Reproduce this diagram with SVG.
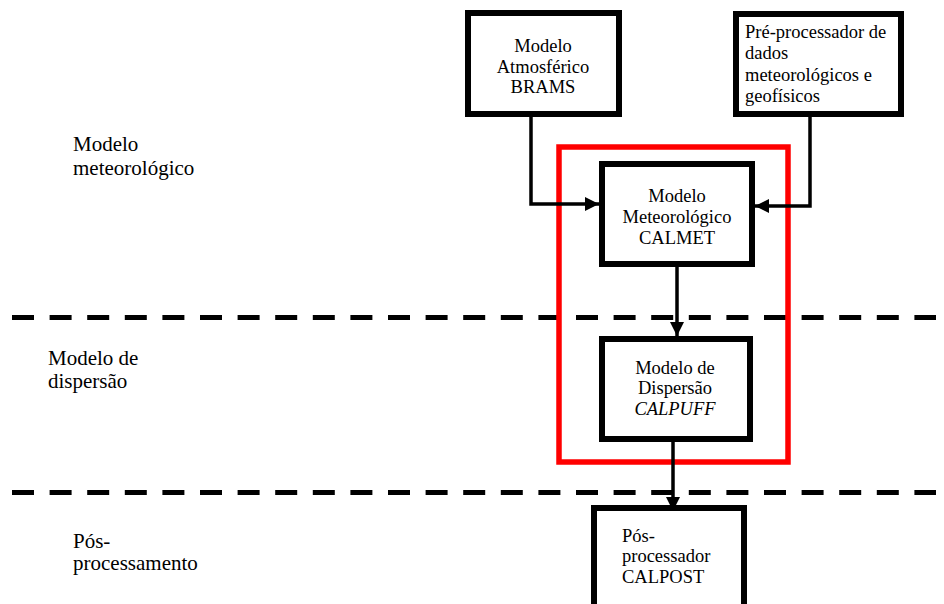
<svg xmlns="http://www.w3.org/2000/svg" width="944" height="604" viewBox="0 0 944 604">
<style>
.t{font-family:'Liberation Serif','DejaVu Serif',serif;font-size:18.5px;fill:#000}
.lab{font-family:'Liberation Serif','DejaVu Serif',serif;font-size:21px;fill:#000}
.box{fill:#fff;stroke:#000;stroke-width:6}
.c{text-anchor:middle}
.conn{fill:none;stroke:#000;stroke-width:3.5}
.dash{fill:none;stroke:#000;stroke-width:5;stroke-dasharray:22 15.6}
</style>
<defs>
<marker id="ah" viewBox="0 0 14 14" refX="14" refY="7" markerWidth="14" markerHeight="14" markerUnits="userSpaceOnUse" orient="auto">
<path d="M0,0 L14,7 L0,14 z" fill="#000"/>
</marker>
</defs>
<rect width="944" height="604" fill="#fff"/>
<g id="separators">
<line class="dash" x1="12" y1="317.5" x2="936" y2="317.5"/>
<line class="dash" x1="12" y1="492.5" x2="936" y2="492.5"/>
</g>
<g id="labels">
<text class="lab" x="73" y="151">Modelo</text>
<text class="lab" x="73" y="175">meteorológico</text>
<text class="lab" x="48" y="365">Modelo de</text>
<text class="lab" x="48" y="388">dispersão</text>
<text class="lab" x="73" y="548">Pós-</text>
<text class="lab" x="73" y="570">processamento</text>
</g>
<g id="group-red">
<rect x="559" y="147" width="229" height="315" fill="none" stroke="#f00" stroke-width="5.5"/>
</g>
<g id="brams">
<rect class="box" x="468" y="13" width="151" height="101"/>
<text class="t c" x="543" y="52">Modelo</text>
<text class="t c" x="543" y="73">Atmosférico</text>
<text class="t c" x="543" y="93">BRAMS</text>
</g>
<g id="preproc">
<rect class="box" x="736" y="14" width="165" height="100"/>
<text class="t" x="745" y="38">Pré-processador de</text>
<text class="t" x="745" y="59">dados</text>
<text class="t" x="745" y="81">meteorológicos e</text>
<text class="t" x="745" y="102">geofísicos</text>
</g>
<g id="calmet">
<rect class="box" x="602" y="164" width="150" height="100"/>
<text class="t c" x="677" y="202">Modelo</text>
<text class="t c" x="677" y="223">Meteorológico</text>
<text class="t c" x="677" y="244">CALMET</text>
</g>
<g id="calpuff">
<rect class="box" x="602" y="339" width="148" height="100"/>
<text class="t c" x="675" y="374">Modelo de</text>
<text class="t c" x="675" y="394">Dispersão</text>
<text class="t c" x="675" y="415" font-style="italic">CALPUFF</text>
</g>
<g id="calpost">
<rect class="box" x="594" y="508" width="150" height="110"/>
<text class="t" x="622" y="542">Pós-</text>
<text class="t" x="622" y="562">processador</text>
<text class="t" x="622" y="583">CALPOST</text>
</g>
<g id="connectors">
<path class="conn" d="M531,117 V204 H599" marker-end="url(#ah)"/>
<path class="conn" d="M810,117 V206 H755" marker-end="url(#ah)"/>
<path class="conn" d="M677,267 V336" marker-end="url(#ah)"/>
<path class="conn" d="M673,442 V511" marker-end="url(#ah)"/>
</g>
</svg>
